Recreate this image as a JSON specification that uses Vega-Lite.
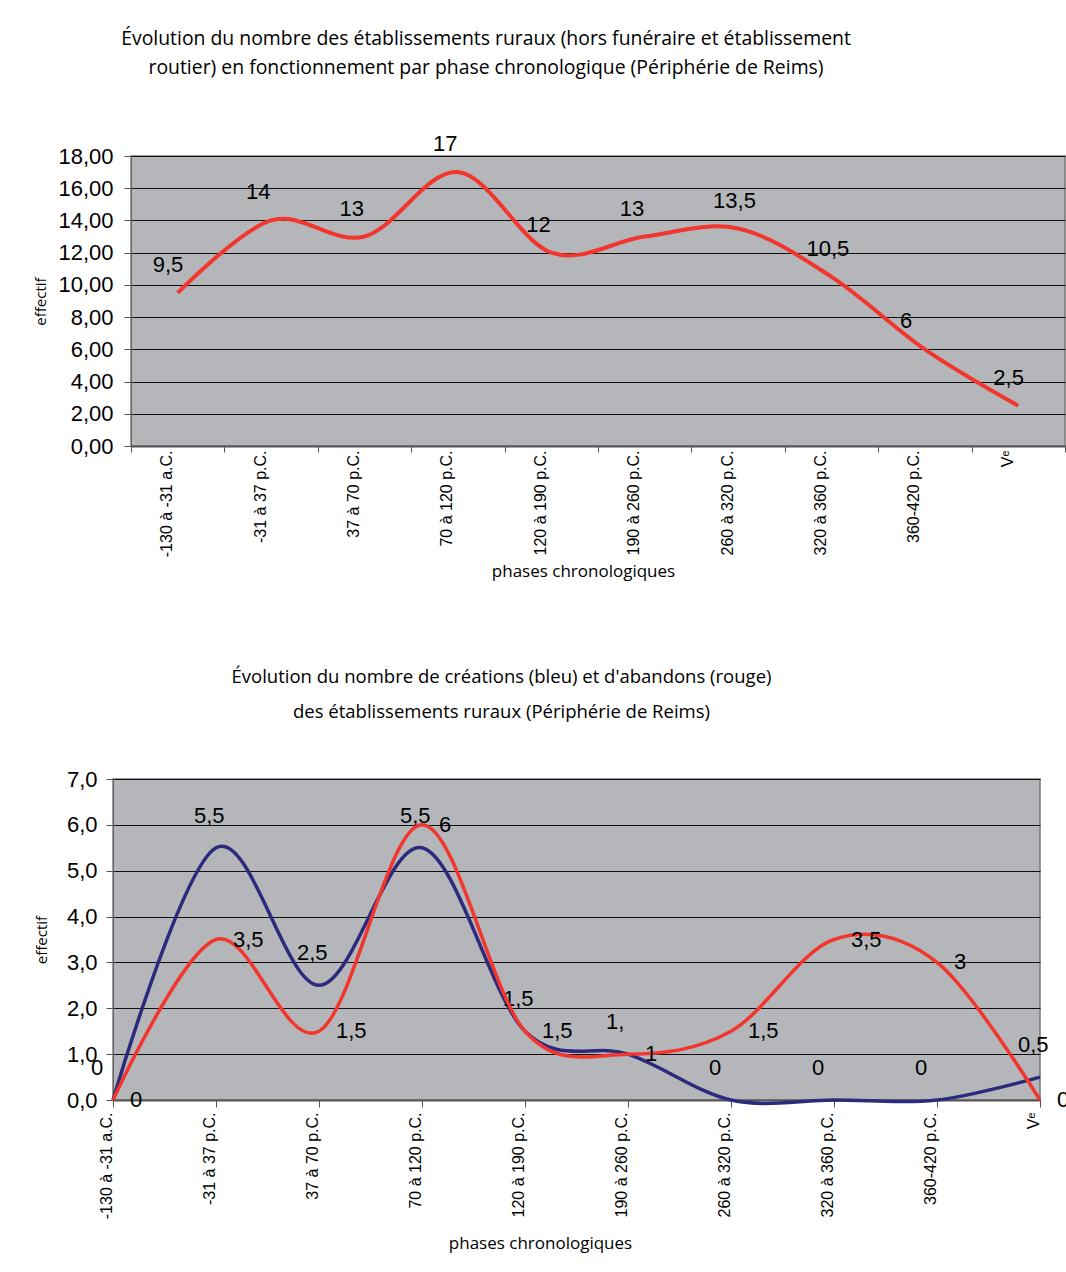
{
  "$schema": "https://vega.github.io/schema/vega-lite/v6.json",
  "background": "white",
  "padding": {"left": 31, "top": 27, "right": 0, "bottom": 0},
  "spacing": 85,
  "config": {
    "view": {"fill": "#b5b6ba", "stroke": "#7a7a7a", "strokeWidth": 1.5},
    "font": "Liberation Sans",
    "title": {"font": "Open Sans", "fontSize": 19, "fontWeight": "normal", "color": "black", "anchor": "middle"},
    "axis": {
      "labelFont": "Liberation Sans",
      "labelColor": "black",
      "titleFont": "Open Sans",
      "titleFontWeight": "normal",
      "titleColor": "black",
      "tickColor": "#555555",
      "domainColor": "#666666",
      "tickSize": 7
    },
    "text": {"font": "Liberation Sans", "fontSize": 22, "color": "black", "baseline": "middle"}
  },
  "datasets": {
    "vide": [{}],
    "fonctionnement": [
      {"phase": "-130 à -31 a.C.", "effectif": 9.5, "label": "9,5"},
      {"phase": "-31 à 37 p.C.", "effectif": 14, "label": "14"},
      {"phase": "37 à 70 p.C.", "effectif": 13, "label": "13"},
      {"phase": "70 à 120 p.C.", "effectif": 17, "label": "17"},
      {"phase": "120 à 190 p.C.", "effectif": 12, "label": "12"},
      {"phase": "190 à 260 p.C.", "effectif": 13, "label": "13"},
      {"phase": "260 à 320 p.C.", "effectif": 13.5, "label": "13,5"},
      {"phase": "320 à 360 p.C.", "effectif": 10.5, "label": "10,5"},
      {"phase": "360-420 p.C.", "effectif": 6, "label": "6"},
      {"phase": "Vᵉ", "effectif": 2.5, "label": "2,5"}
    ],
    "mouvements": [
      {"phase": "-130 à -31 a.C.", "serie": "créations", "effectif": 0, "label": "0"},
      {"phase": "-31 à 37 p.C.", "serie": "créations", "effectif": 5.5, "label": "5,5"},
      {"phase": "37 à 70 p.C.", "serie": "créations", "effectif": 2.5, "label": "2,5"},
      {"phase": "70 à 120 p.C.", "serie": "créations", "effectif": 5.5, "label": "5,5"},
      {"phase": "120 à 190 p.C.", "serie": "créations", "effectif": 1.5, "label": "1,5"},
      {"phase": "190 à 260 p.C.", "serie": "créations", "effectif": 1, "label": "1,"},
      {"phase": "260 à 320 p.C.", "serie": "créations", "effectif": 0, "label": "0"},
      {"phase": "320 à 360 p.C.", "serie": "créations", "effectif": 0, "label": "0"},
      {"phase": "360-420 p.C.", "serie": "créations", "effectif": 0, "label": "0"},
      {"phase": "Vᵉ", "serie": "créations", "effectif": 0.5, "label": "0,5"},
      {"phase": "-130 à -31 a.C.", "serie": "abandons", "effectif": 0, "label": "0"},
      {"phase": "-31 à 37 p.C.", "serie": "abandons", "effectif": 3.5, "label": "3,5"},
      {"phase": "37 à 70 p.C.", "serie": "abandons", "effectif": 1.5, "label": "1,5"},
      {"phase": "70 à 120 p.C.", "serie": "abandons", "effectif": 6, "label": "6"},
      {"phase": "120 à 190 p.C.", "serie": "abandons", "effectif": 1.5, "label": "1,5"},
      {"phase": "190 à 260 p.C.", "serie": "abandons", "effectif": 1, "label": "1"},
      {"phase": "260 à 320 p.C.", "serie": "abandons", "effectif": 1.5, "label": "1,5"},
      {"phase": "320 à 360 p.C.", "serie": "abandons", "effectif": 3.5, "label": "3,5"},
      {"phase": "360-420 p.C.", "serie": "abandons", "effectif": 3, "label": "3"},
      {"phase": "Vᵉ", "serie": "abandons", "effectif": 0, "label": "0"}
    ]
  },
  "vconcat": [
    {
      "spacing": 0,
      "hconcat": [
        {
          "width": 1,
          "height": 1,
          "view": {"fill": null, "stroke": null},
          "data": {"name": "vide"},
          "mark": {"type": "rule", "opacity": 0},
          "encoding": {}
        },
        {
          "width": 934,
          "height": 290,
          "title": {
            "text": ["Évolution du nombre des établissements ruraux (hors funéraire et établissement", "routier) en fonctionnement par phase chronologique (Périphérie de Reims)"],
            "fontSize": 19.4,
            "lineHeight": 29,
            "dx": -112,
            "offset": 55
          },
          "data": {"name": "fonctionnement"},
          "encoding": {
            "x": {
              "field": "phase", "type": "nominal", "sort": null,
              "scale": {"type": "band", "paddingInner": 0, "paddingOuter": 0},
              "axis": {
                "title": "phases chronologiques", "titleFontSize": 17, "titlePadding": 7, "titleX": 452,
                "labelAngle": -90, "labelFontSize": 16, "labelPadding": -2, "labelOffset": -11,
                "tickSize": 6, "tickBand": "extent", "grid": false, "domainWidth": 2, "domainColor": "#555555"
              }
            },
            "y": {
              "field": "effectif", "type": "quantitative",
              "scale": {"domain": [0, 18], "nice": false},
              "axis": {
                "title": "effectif", "titleFontSize": 15, "titlePadding": 9,
                "values": [0, 2, 4, 6, 8, 10, 12, 14, 16, 18],
                "labelExpr": "replace(format(datum.value, '.2f'), '.', ',')",
                "labelFontSize": 22, "labelPadding": 11,
                "grid": true, "gridColor": "#111111", "gridWidth": 1
              }
            }
          },
          "layer": [
            {"mark": {"type": "line", "interpolate": "cardinal", "color": "#f2352d", "strokeWidth": 4}},
            {"mark": {"type": "text", "align": "left", "dx": -25, "dy": -28}, "encoding": {"text": {"field": "label"}}}
          ]
        }
      ]
    },
    {
      "spacing": 0,
      "hconcat": [
        {
          "width": 1,
          "height": 1,
          "view": {"fill": null, "stroke": null},
          "data": {"name": "vide"},
          "mark": {"type": "rule", "opacity": 0},
          "encoding": {}
        },
        {
          "width": 927,
          "height": 321,
          "title": {
            "text": ["Évolution du nombre de créations (bleu) et d'abandons (rouge)", "des établissements ruraux (Périphérie de Reims)"],
            "fontSize": 18.5,
            "lineHeight": 35,
            "dx": -75,
            "offset": 47
          },
          "data": {"name": "mouvements"},
          "encoding": {
            "x": {
              "field": "phase", "type": "nominal", "sort": null,
              "scale": {"type": "point", "padding": 0},
              "axis": {
                "title": "phases chronologiques", "titleFontSize": 17, "titlePadding": 17, "titleX": 427,
                "labelAngle": -90, "labelFontSize": 16, "labelPadding": 5, "labelOffset": -7,
                "grid": false, "domainWidth": 2, "domainColor": "#555555"
              }
            },
            "y": {
              "field": "effectif", "type": "quantitative",
              "scale": {"domain": [0, 7], "nice": false},
              "axis": {
                "title": "effectif", "titleFontSize": 15, "titlePadding": 17,
                "values": [0, 1, 2, 3, 4, 5, 6, 7],
                "labelExpr": "replace(format(datum.value, '.1f'), '.', ',')",
                "labelFontSize": 22, "labelPadding": 9,
                "grid": true, "gridColor": "#111111", "gridWidth": 1
              }
            }
          },
          "layer": [
            {
              "transform": [{"filter": "datum.serie === 'créations'"}],
              "layer": [
                {"mark": {"type": "line", "interpolate": "cardinal", "color": "#2c2a7c", "strokeWidth": 3.5}},
                {"mark": {"type": "text", "align": "left", "dx": -22, "dy": -32}, "encoding": {"text": {"field": "label"}}}
              ]
            },
            {
              "transform": [{"filter": "datum.serie === 'abandons'"}],
              "layer": [
                {"mark": {"type": "line", "interpolate": "cardinal", "color": "#f2352d", "strokeWidth": 3.5}},
                {"mark": {"type": "text", "align": "left", "dx": 17, "dy": 0}, "encoding": {"text": {"field": "label"}}}
              ]
            }
          ]
        }
      ]
    }
  ]
}
